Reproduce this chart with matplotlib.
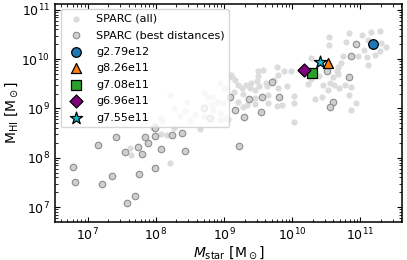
import numpy as np
import matplotlib
matplotlib.use('Agg')
import matplotlib.pyplot as plt

# log10 stellar / HI masses
# SPARC (all) points not marked as best-distance
log_mstar_all = [
    11.29, 10.84, 11.02, 11.15, 10.54, 10.54, 10.79, 11.11, 11.31, 11.38,
    11.05, 11.29, 10.96, 10.74, 11.10, 11.22, 10.72, 11.11, 10.67, 10.65,
    10.60, 10.28, 10.40, 10.45, 10.55, 10.61, 10.68, 10.77, 10.52, 10.86,
    10.84, 10.33, 10.43, 10.93, 10.23, 10.28, 9.10, 9.16, 9.21, 9.15,
    9.26, 9.32, 9.38, 9.28, 9.40, 9.50, 9.57, 9.50, 9.48, 9.51,
    9.62, 9.77, 9.79, 9.74, 9.79, 9.88, 9.98, 9.93, 9.85, 10.03,
    10.03, 10.03, 9.21, 9.28, 9.33, 9.45, 9.45, 9.65, 9.65, 9.11,
    8.26, 8.65, 8.21, 7.62, 7.63, 7.96, 8.07, 8.16, 8.07, 10.87,
    9.78, 9.45, 9.63, 10.67, 8.94, 9.01, 8.70, 8.82, 8.89, 8.99,
    8.45, 8.43, 8.57, 8.50, 8.70, 8.84, 8.94, 8.94, 9.01, 8.21,
    8.26, 8.36, 8.77, 8.70, 8.82, 8.09, 7.98, 9.06,
]
log_mhi_all = [
    10.58, 10.53, 10.48, 10.56, 10.44, 10.29, 10.34, 10.39, 10.33, 10.25,
    10.19, 10.16, 10.07, 10.07, 10.04, 10.09, 9.93, 9.89, 9.85, 9.75,
    9.64, 9.60, 9.65, 9.48, 9.52, 9.47, 9.41, 9.48, 9.38, 9.43,
    9.28, 9.19, 9.23, 9.12, 9.50, 10.02, 9.67, 9.58, 9.47, 9.34,
    9.41, 9.47, 9.41, 9.29, 9.52, 9.76, 9.78, 9.65, 9.56, 9.45,
    9.52, 9.85, 9.67, 9.58, 9.41, 9.75, 9.76, 9.45, 9.08, 9.26,
    9.12, 8.72, 9.14, 9.04, 9.08, 9.09, 9.21, 9.28, 9.11, 9.64,
    8.60, 8.58, 7.89, 8.20, 8.06, 8.60, 8.81, 8.47, 8.49, 8.96,
    9.05, 9.37, 9.46, 9.70, 9.52, 9.41, 9.31, 9.24, 9.14, 9.11,
    9.14, 8.94, 8.87, 8.74, 8.85, 8.97, 8.91, 8.77, 8.81, 9.28,
    9.01, 8.84, 9.24, 9.04, 9.08, 8.74, 8.67, 8.79,
]

# SPARC galaxies with best distances
log_mstar_best = [
    6.78, 6.82, 7.15, 7.21, 7.35, 7.42, 7.57, 7.55, 7.70, 7.73,
    7.75, 7.79, 7.84, 7.89, 7.98, 7.99, 8.07, 8.24, 8.39, 8.42,
    7.98, 10.93, 10.87, 10.51, 10.83, 10.60, 10.56, 9.70, 9.36, 9.56,
    9.80, 9.08, 9.16, 9.29, 9.54, 9.22, 8.70, 8.79,
]
log_mhi_best = [
    7.82, 7.50, 8.26, 7.47, 7.64, 8.43, 7.08, 8.12, 7.23, 8.22,
    7.67, 8.07, 8.42, 8.30, 7.79, 8.45, 8.18, 8.46, 8.50, 8.14,
    8.61, 10.31, 10.07, 9.75, 9.64, 9.14, 9.02, 9.53, 9.19, 9.24,
    9.24, 9.24, 8.97, 8.83, 8.93, 8.23, 9.01, 8.81,
]

# simulated galaxies
sim_names = ['g2.79e12', 'g8.26e11', 'g7.08e11', 'g6.96e11', 'g7.55e11']
sim_mstar = [1.55e11, 3.4e10, 1.95e10, 1.48e10, 2.6e10]
sim_mhi = [2.05e10, 8.5e9, 5.3e9, 6.1e9, 8.9e9]
sim_markers = ['o', '^', 's', 'D', '*']
sim_colors = ['tab:blue', 'tab:orange', 'tab:green', 'purple', 'tab:cyan']
sim_sizes = [48, 52, 42, 44, 85]

fig = plt.figure(figsize=(4.07, 2.6), dpi=100)
ax = fig.add_axes([0.135, 0.148, 0.853, 0.837])

all_x = 10 ** np.array(log_mstar_all + log_mstar_best)
all_y = 10 ** np.array(log_mhi_all + log_mhi_best)
ax.scatter(all_x, all_y, s=20, color='#dcdcdc', linewidths=0, label='SPARC (all)')
ax.scatter(10 ** np.array(log_mstar_best), 10 ** np.array(log_mhi_best), s=22,
           facecolor='#cfcfcf', edgecolor='#8e8e8e', linewidths=0.8,
           label='SPARC (best distances)')

for name, xm, ym, mk, col, sz in zip(sim_names, sim_mstar, sim_mhi,
                                     sim_markers, sim_colors, sim_sizes):
    ax.scatter([xm], [ym], s=sz, marker=mk, color=col, edgecolor='k',
               linewidths=0.9, label=name, zorder=5)

ax.set_xscale('log')
ax.set_yscale('log')
ax.set_xlim(3.3e6, 4.1e11)
ax.set_ylim(5.1e6, 1.32e11)

ax.tick_params(which='both', direction='in', top=True, right=True, labelsize=9)
for sp in ax.spines.values():
    sp.set_linewidth(1.1)

ax.set_xlabel(r'$M_{\rm star}$ [M$_\odot$]', fontsize=10, labelpad=1)
ax.set_ylabel(r'M$_{\rm HI}$ [M$_\odot$]', fontsize=10, labelpad=1)

ax.legend(loc='upper left', fontsize=8, scatterpoints=1, labelspacing=0.58)

fig.savefig('out.png', dpi=100)
